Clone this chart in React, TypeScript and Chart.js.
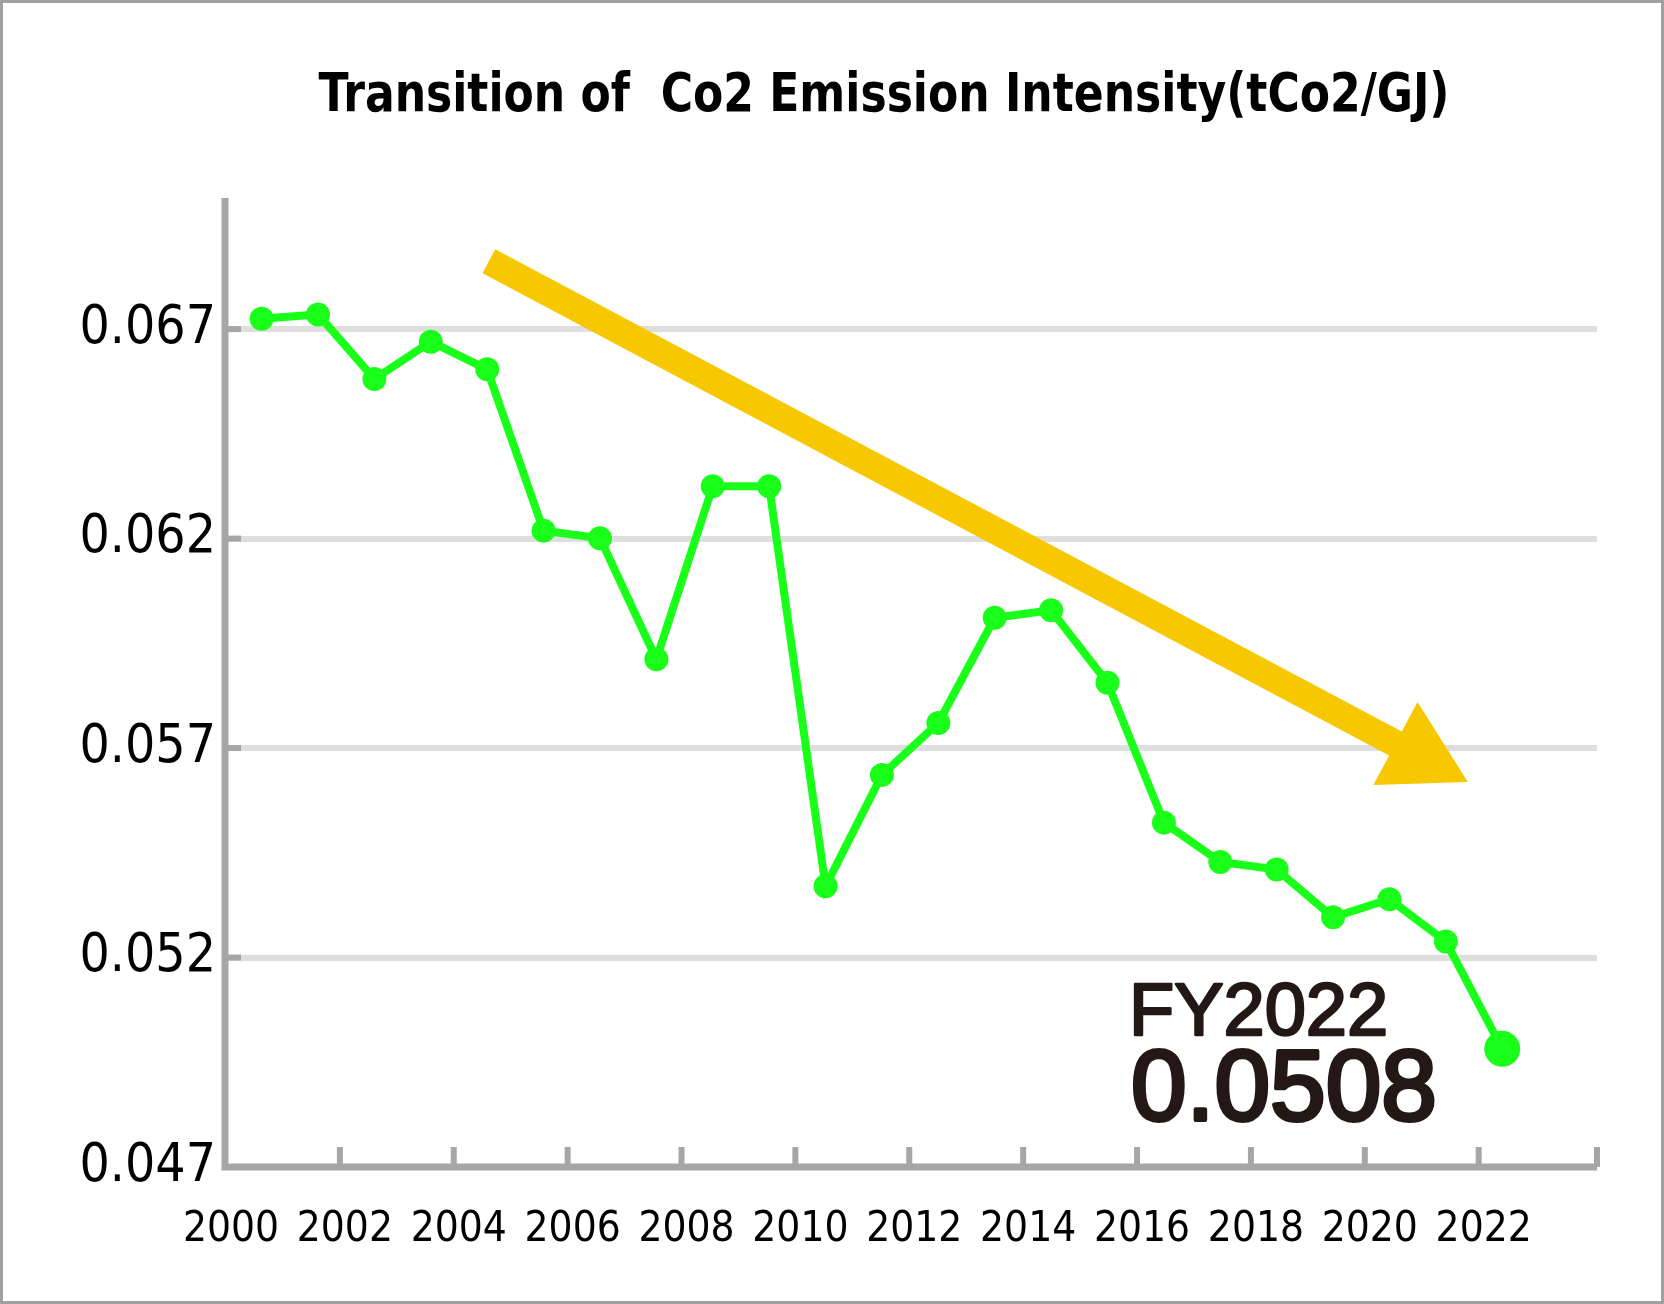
import React, { useEffect, useRef } from "react";
import { Chart, registerables } from "chart.js";

Chart.register(...registerables);

// ---- data ----
const years = [
  2000, 2001, 2002, 2003, 2004, 2005, 2006, 2007, 2008, 2009, 2010, 2011,
  2012, 2013, 2014, 2015, 2016, 2017, 2018, 2019, 2020, 2021, 2022,
];
const intensity = [
  0.06725, 0.06735, 0.06581, 0.0667, 0.06604, 0.06219, 0.06201, 0.05912,
  0.06325, 0.06325, 0.0537, 0.05636, 0.0576, 0.06011, 0.06029, 0.05856,
  0.05522, 0.05428, 0.0541, 0.05296, 0.05339, 0.05238, 0.04982,
];
const yTickValues = [0.047, 0.052, 0.057, 0.062, 0.067];
const xTickYears = [
  2000, 2002, 2004, 2006, 2008, 2010, 2012, 2014, 2016, 2018, 2020, 2022,
];
const titleText = "Transition of  Co2 Emission Intensity(tCo2/GJ)";
const highlightLabel = "FY2022";
const highlightValue = "0.0508";
// trend arrow, in (year, value) coordinates
const arrowFrom = [2004.03, 0.06862];
const arrowTo = [2021.39, 0.05619];

const GREEN = "#1aff1a";
const AXIS_GREY = "#a6a6a6";
const GRID_GREY = "#dedede";
const NARROW = '"Liberation Sans Narrow", "DejaVu Sans Condensed", "Liberation Sans", sans-serif';

const decorPlugin = {
  id: "decor",
  beforeDatasetsDraw(chart: any) {
    const { ctx, chartArea, scales } = chart;
    const { left, right, top, bottom } = chartArea;
    ctx.save();
    // trend arrow
    const x0 = scales.x.getPixelForValue(arrowFrom[0]);
    const y0 = scales.y.getPixelForValue(arrowFrom[1]);
    const x1 = scales.x.getPixelForValue(arrowTo[0]);
    const y1 = scales.y.getPixelForValue(arrowTo[1]);
    const len = Math.hypot(x1 - x0, y1 - y0);
    const ux = (x1 - x0) / len;
    const uy = (y1 - y0) / len;
    const nx = -uy;
    const ny = ux;
    const headL = 82;
    const headH = 47;
    const shaft = 13.5;
    const bx = x1 - ux * headL;
    const by = y1 - uy * headL;
    ctx.fillStyle = "#f7c800";
    ctx.beginPath();
    ctx.moveTo(x0 + nx * shaft, y0 + ny * shaft);
    ctx.lineTo(bx + nx * shaft, by + ny * shaft);
    ctx.lineTo(bx + nx * headH, by + ny * headH);
    ctx.lineTo(x1, y1);
    ctx.lineTo(bx - nx * headH, by - ny * headH);
    ctx.lineTo(bx - nx * shaft, by - ny * shaft);
    ctx.lineTo(x0 - nx * shaft, y0 - ny * shaft);
    ctx.closePath();
    ctx.fill();

    // y tick stubs
    ctx.fillStyle = AXIS_GREY;
    yTickValues.forEach((v) => {
      const y = scales.y.getPixelForValue(v);
      ctx.fillRect(left, y - 3, 16, 6);
    });
    // x tick marks (pointing up)
    xTickYears.slice(1).forEach((yr) => {
      const x = scales.x2.getPixelForValue(yr) - 5;
      ctx.fillRect(x - 3, bottom - 20, 6, 20);
    });
    ctx.fillRect(right - 3, bottom - 20, 6, 20);
    // axes
    ctx.strokeStyle = AXIS_GREY;
    ctx.lineWidth = 7;
    ctx.lineJoin = "miter";
    ctx.beginPath();
    ctx.moveTo(left, top);
    ctx.lineTo(left, bottom);
    ctx.lineTo(right, bottom);
    ctx.stroke();
    ctx.restore();
  },
  afterDraw(chart: any) {
    const { ctx, width, height } = chart;
    ctx.save();
    // title
    ctx.fillStyle = "#000";
    ctx.font = `bold 54px ${NARROW}`;
    ctx.textAlign = "center";
    ctx.textBaseline = "alphabetic";
    const w = ctx.measureText(titleText).width;
    ctx.translate(884, 111);
    ctx.scale(1131 / w, 1);
    ctx.fillText(titleText, 0, 0);
    ctx.restore();

    // FY2022 annotation (medium weight simulated with a thin stroke)
    ctx.save();
    ctx.fillStyle = "#231815";
    ctx.strokeStyle = "#231815";
    ctx.lineJoin = "round";
    ctx.textAlign = "left";
    ctx.textBaseline = "alphabetic";
    ctx.font = '74px "Liberation Sans", Arial, sans-serif';
    ctx.lineWidth = 2.5;
    ctx.fillText(highlightLabel, 1129, 1035);
    ctx.strokeText(highlightLabel, 1129, 1035);
    ctx.font = '100px "Liberation Sans", Arial, sans-serif';
    ctx.lineWidth = 4;
    ctx.fillText(highlightValue, 1131, 1120);
    ctx.strokeText(highlightValue, 1131, 1120);
    ctx.restore();

    // outer frame
    ctx.save();
    ctx.strokeStyle = "#a0a0a0";
    ctx.lineWidth = 3;
    ctx.strokeRect(1.5, 1.5, width - 3, height - 3);
    ctx.restore();
  },
};

export default function App() {
  const canvasRef = useRef<HTMLCanvasElement | null>(null);

  useEffect(() => {
    if (!canvasRef.current) return;
    const radii = years.map((_, i) => (i === years.length - 1 ? 18 : 12));
    const chart = new Chart(canvasRef.current, {
      type: "line",
      data: {
        datasets: [
          {
            label: "CO2 emission intensity",
            data: years.map((yr, i) => ({ x: yr, y: intensity[i] })),
            borderColor: GREEN,
            backgroundColor: GREEN,
            borderWidth: 8,
            pointRadius: radii,
            pointBackgroundColor: GREEN,
            pointBorderWidth: 0,
            tension: 0,
            fill: false,
          },
        ],
      },
      options: {
        responsive: false,
        animation: false,
        devicePixelRatio: 1,
        layout: { padding: { top: 198, right: 67, bottom: 0, left: 0 } },
        plugins: {
          legend: { display: false },
          title: { display: false },
          tooltip: { enabled: false },
        },
        scales: {
          x: {
            type: "linear",
            position: "bottom",
            display: false,
            min: 1999.351,
            max: 2023.68,
          },
          x2: {
            type: "linear",
            position: "bottom",
            min: 1999.895,
            max: 2023.99,
            afterBuildTicks: (scale: any) => {
              scale.ticks = xTickYears.map((v) => ({ value: v }));
            },
            afterFit: (scale: any) => {
              scale.height = 137;
            },
            grid: { display: false, drawTicks: false },
            border: { display: false },
            ticks: {
              color: "#000",
              font: { family: NARROW, size: 42 },
              padding: 38,
              maxRotation: 0,
              autoSkip: false,
              callback: (v: any) => String(v),
            },
          },
          y: {
            type: "linear",
            min: 0.047,
            max: 0.07013,
            afterBuildTicks: (scale: any) => {
              scale.ticks = yTickValues.map((v) => ({ value: v }));
            },
            afterFit: (scale: any) => {
              scale.width = 225;
            },
            grid: {
              color: GRID_GREY,
              lineWidth: 6,
              drawTicks: false,
            },
            border: { display: false },
            ticks: {
              color: "#000",
              font: { family: NARROW, size: 53 },
              padding: 9,
              callback: (v: any) => Number(v).toFixed(3),
            },
          },
        },
      },
      plugins: [decorPlugin],
    });
    return () => chart.destroy();
  }, []);

  return (
    <div
      style={{
        position: "absolute",
        left: 0,
        top: 0,
        width: 1664,
        height: 1304,
        background: "#fff",
      }}
    >
      <canvas
        ref={canvasRef}
        width={1664}
        height={1304}
        style={{ display: "block", width: 1664, height: 1304 }}
      />
    </div>
  );
}
